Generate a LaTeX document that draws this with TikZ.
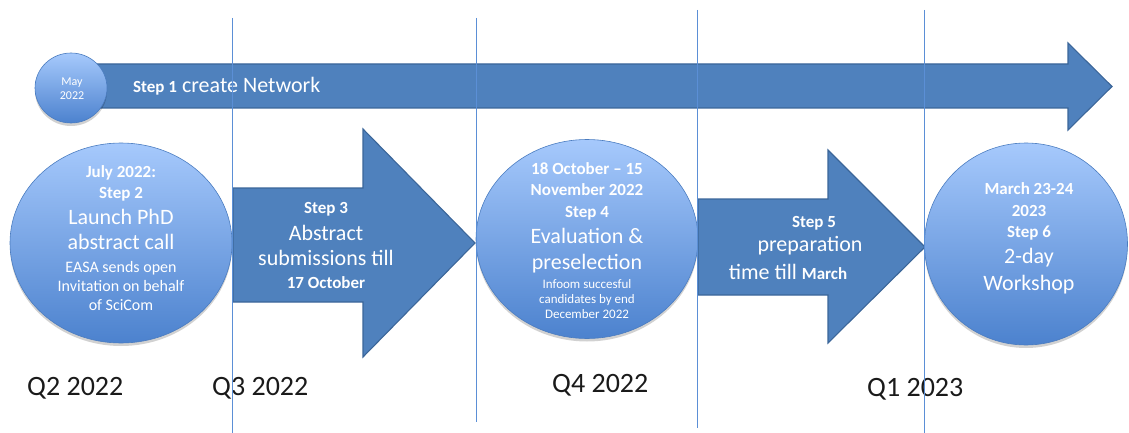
\documentclass[tikz,border=0pt]{standalone}
\usepackage{fontspec}
\setmainfont{Carlito}
\usetikzlibrary{shapes.geometric,shadows}

\definecolor{arrowblue}{HTML}{4F81BD}
\definecolor{arrowedge}{HTML}{3B6699}
\definecolor{disctop}{HTML}{A6C9FC}
\definecolor{discmid}{HTML}{86B0EE}
\definecolor{discbottom}{HTML}{4C82CE}
\definecolor{discedge}{HTML}{4A7CC0}
\definecolor{gridblue}{HTML}{5B8FD6}
\definecolor{quartertext}{HTML}{1A1A1A}

\begin{document}
\begin{tikzpicture}[x=1pt,y=-1pt,
  stepshape/.style={fill=arrowblue,draw=arrowedge,line width=1.1pt,line join=miter},
  disc/.style={ellipse,draw=discedge,line width=0.6pt,inner sep=0pt,
    top color=disctop,middle color=discmid,bottom color=discbottom,
    drop shadow={opacity=0.18,shadow xshift=0pt,shadow yshift=-3pt,fill=black}},
  bold/.style={anchor=base,inner sep=0pt,text=white,font=\bfseries\fontsize{17}{20}\selectfont},
  big/.style={anchor=base,inner sep=0pt,text=white,font=\fontsize{22}{26}\selectfont},
  small/.style={anchor=base,inner sep=0pt,text=white,font=\fontsize{16}{19}\selectfont},
  tiny/.style={anchor=base,inner sep=0pt,text=white,font=\fontsize{13}{15}\selectfont},
  quarter/.style={anchor=base west,inner sep=0pt,text=quartertext,font=\fontsize{28}{32}\selectfont},
  divider/.style={draw=gridblue,line width=0.8pt}]

\useasboundingbox (0,0) rectangle (1129,433);

% Step 1: long arrow across the whole year
\draw[stepshape] (70,64) -- (1068,64) -- (1068,43) -- (1112,86.5) -- (1068,130)
  -- (1068,108) -- (70,108) -- cycle;
\node[disc,minimum width=72pt,minimum height=70pt] (may) at (71,88) {};
\node[tiny,font=\fontsize{12}{14}\selectfont] (mayA) at (72,86) {May};
\node[tiny,font=\fontsize{12}{14}\selectfont] (mayB) at (72,100) {2022};
\node[anchor=base west,inner sep=0pt,text=white,font=\fontsize{22}{26}\selectfont]
  (step1) at (133,93) {{\bfseries\fontsize{17}{20}\selectfont Step 1} create Network};

% Step 2 disc
\node[disc,minimum width=222pt,minimum height=200pt] (disc2) at (121,243) {};
\node[bold]  (d2a) at (121,177.5) {July 2022:};
\node[bold]  (d2b) at (121,198.5) {Step 2};
\node[big]   (d2c) at (121,224) {Launch PhD};
\node[big]   (d2d) at (121,249) {abstract call};
\node[small] (d2e) at (121,272) {EASA sends open};
\node[small] (d2f) at (121,291) {Invitation on behalf};
\node[small] (d2g) at (121,310) {of SciCom};

% Step 3 arrow
\draw[stepshape] (233,188) -- (363,188) -- (363,129) -- (475,243) -- (363,357)
  -- (363,302) -- (233,302) -- cycle;
\node[bold] (a3a) at (326,213.5) {Step 3};
\node[big]  (a3b) at (326,240) {Abstract};
\node[big]  (a3c) at (326,265) {submissions till};
\node[bold] (a3d) at (326,288.5) {17 October};

% Step 4 disc
\node[disc,minimum width=222pt,minimum height=199pt] (disc4) at (587,239) {};
\node[bold] (d4a) at (587,174.5) {18 October – 15};
\node[bold] (d4b) at (587,195.5) {November 2022};
\node[bold] (d4c) at (587,217.5) {Step 4};
\node[big]  (d4d) at (587,243) {Evaluation \&};
\node[big]  (d4e) at (587,269) {preselection};
\node[tiny] (d4f) at (587,288) {Infoom succesful};
\node[tiny] (d4g) at (587,303) {candidates by end};
\node[tiny] (d4h) at (587,318) {December 2022};

% Step 5 arrow
\draw[stepshape] (698,199) -- (828,199) -- (828,150) -- (925,247) -- (828,343)
  -- (828,295) -- (698,295) -- cycle;
\node[bold] (a5a) at (814,227.5) {Step 5};
\node[big]  (a5b) at (810,251) {preparation};
\node[big]  (a5c) at (788,279) {time till {\bfseries\fontsize{17}{20}\selectfont March}};

% Step 6 disc
\node[disc,minimum width=203pt,minimum height=202pt] (disc6) at (1026,244) {};
\node[bold] (d6a) at (1029,194.5) {March 23-24};
\node[bold] (d6b) at (1029,216.5) {2023};
\node[bold] (d6c) at (1029,237.5) {Step 6};
\node[big]  (d6d) at (1029,263) {2-day};
\node[big]  (d6e) at (1029,290) {Workshop};

% quarter labels
\node[quarter] (q2) at (27,395) {Q2 2022};
\node[quarter] (q3) at (212,395) {Q3 2022};
\node[quarter] (q4) at (552,392) {Q4 2022};
\node[quarter] (q1) at (867,396) {Q1 2023};

% quarter dividers
\coordinate (v1t) at (232,18);  \coordinate (v1b) at (232,433);
\coordinate (v2t) at (476,18);  \coordinate (v2b) at (476,422);
\coordinate (v3t) at (697,10);  \coordinate (v3b) at (697,428);
\coordinate (v4t) at (924,10);  \coordinate (v4b) at (924,433);
\draw[divider] (v1t) -- (v1b);
\draw[divider] (v2t) -- (v2b);
\draw[divider] (v3t) -- (v3b);
\draw[divider] (v4t) -- (v4b);
\end{tikzpicture}
\end{document}
